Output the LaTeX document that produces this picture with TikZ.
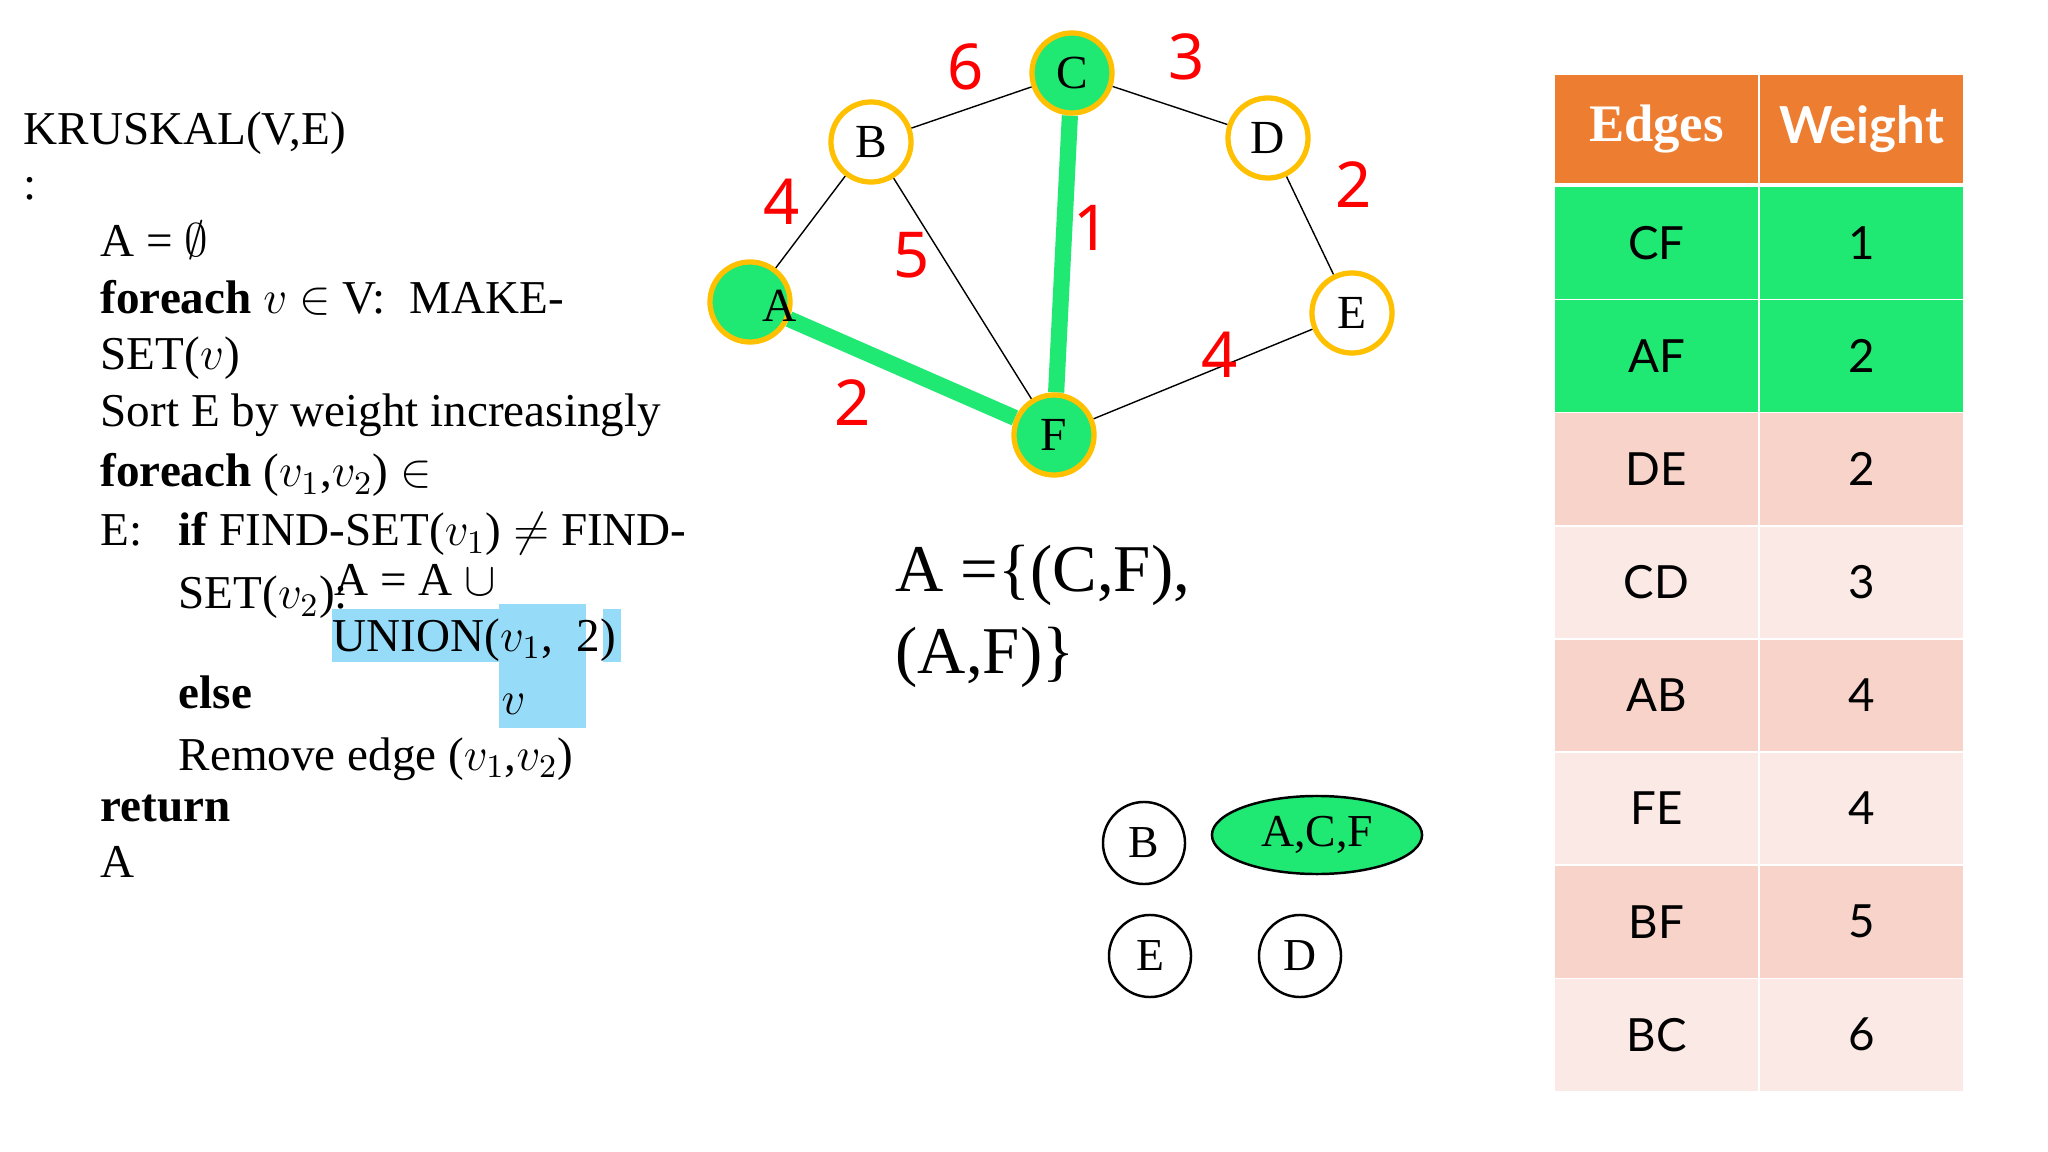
\documentclass[tikz,border=0pt]{standalone}
\usepackage{fix-cm}
\usepackage{fontspec}
\setmainfont{Liberation Serif}
\newfontfamily\latofont{Lato}
\newfontfamily\digitfont{Noto Sans}
\usetikzlibrary{shapes.geometric,backgrounds}
\definecolor{mstgreen}{HTML}{1FE873}
\definecolor{ring}{HTML}{FFC000}
\definecolor{headorange}{HTML}{ED7D31}
\definecolor{rowdark}{HTML}{F7D3CA}
\definecolor{rowlight}{HTML}{FAE9E5}
\definecolor{selblue}{HTML}{96DCF8}

\begin{document}
\begin{tikzpicture}[x=.01cm,y=-.01cm,
    code/.style={anchor=base west,inner sep=0pt,font=\fontsize{13.4}{16}\selectfont},
    vtx/.style={circle,draw=ring,line width=1.5pt,fill=white,minimum size=.8cm,inner sep=0pt,font=\fontsize{13.5}{16}\selectfont},
    wt/.style={red,inner sep=0pt,font=\digitfont\fontsize{18}{20}\selectfont},
    setnode/.style={circle,draw,line width=.7pt,minimum size=.82cm,inner sep=0pt,font=\fontsize{13}{16}\selectfont},
    cell/.style={draw=white,line width=.4pt,minimum width=2.05cm,minimum height=1.13cm,inner sep=0pt,font=\latofont\fontsize{13}{15}\selectfont},
    head/.style={cell,fill=headorange,text=white,minimum height=1.1cm}]
  \begin{scope}[on background layer]
    \fill[white] (0,0) rectangle (2048,1152);
  \end{scope}
  \useasboundingbox (0,0) rectangle (2048,1152);

  % pseudocode
  \fill[selblue] (332,609) rectangle (499,662);
  \fill[selblue] (499,604) rectangle (586,728);
  \fill[selblue] (603,609) rectangle (621,662);
  \node[code] (l1) at (23,145) {KRUSKAL(V,E)};
  \node[code] (l2) at (23,200) {:};
  \node[code] (l3) at (100,257) {A = $\emptyset$};
  \node[code] (l4) at (100,314) {\textbf{foreach} $v$ $\in$ V:\ \ MAKE-};
  \node[code] (l5) at (100,370) {SET($v$)};
  \node[code] (l6) at (100,427) {Sort E by weight increasingly};
  \node[code] (l7) at (100,487) {\textbf{foreach} ($v_1$,$v_2$) $\in$};
  \node[code] (l8) at (100,546) {E:};
  \node[code] (l9) at (178,546) {\textbf{if} FIND-SET($v_1$) $\neq$ FIND-};
  \node[code] (l10) at (178,609) {SET($v_2$):};
  \node[code] (l11) at (334,595) {A = A $\cup$};
  \node[code] (l12) at (332,651) {UNION($v_1$,~ 2)};
  \node[code] (l13) at (178,708) {\textbf{else}};
  \node[code] (l14) at (501,715) {$v$};
  \node[code] (l15) at (178,770) {Remove edge ($v_1$,$v_2$)};
  \node[code] (l16) at (100,821) {\textbf{return}};
  \node[code] (l17) at (100,877) {A};

  % graph
  \node[vtx] (B) at (871,142) {B};
  \node[vtx,fill=mstgreen] (C) at (1072,73) {C};
  \node[vtx] (D) at (1268,138) {D};
  \node[vtx,fill=mstgreen,label={[font=\fontsize{13.5}{16}\selectfont,xshift=.3cm,yshift=-.04cm]center:A}] (A) at (750,302) {};
  \node[vtx] (E) at (1352,313) {E};
  \node[vtx,fill=mstgreen] (F) at (1054,435) {F};
  \begin{scope}[on background layer]
    \draw[mstgreen,line width=4.6pt] (C) -- (F) (A) -- (F);
    \draw[line width=.4pt] (A) -- (B) -- (C) -- (D) -- (E) -- (F) -- (B);
  \end{scope}
  \foreach \n/\x/\y/\t in {lBC/966/67/6,lCD/1187/57/3,lAB/782/202/4,lBF/912/255/5,
      lCF/1092/228/1,lDE/1354/185/2,lEF/1220/355/4,lAF/853/403/2}
    \node[wt] (\n) at (\x,\y) {\t};

  \node[anchor=base west,inner sep=0pt,font=\fontsize{19}{22}\selectfont] (ans1) at (895,592) {A =\{(C,F),};
  \node[anchor=base west,inner sep=0pt,font=\fontsize{19}{22}\selectfont] (ans2) at (895,673) {(A,F)\}};

  % disjoint sets
  \node[setnode] (sB) at (1144,843) {B};
  \node[setnode,ellipse,fill=mstgreen,minimum width=2.1cm,minimum height=.78cm] (sACF) at (1317,835) {A,C,F};
  \node[setnode] (sE) at (1150,956) {E};
  \node[setnode] (sD) at (1300,956) {D};

  % table
  \node[head,font=\bfseries\fontsize{15}{16}\selectfont] (hE) at (1656.5,129) {Edges};
  \node[head,font=\latofont\bfseries\fontsize{14.5}{16}\selectfont] (hW) at (1861.5,129) {Weight};
  \foreach \e/\w/\c [count=\i] in {CF/1/mstgreen,AF/2/mstgreen,DE/2/rowdark,CD/3/rowlight,
      AB/4/rowdark,FE/4/rowlight,BF/5/rowdark,BC/6/rowlight}{
    \node[cell,fill=\c] (e\i) at (1656.5,{130+113.1*\i}) {\e};
    \node[cell,fill=\c] (w\i) at (1861.5,{130+113.1*\i}) {\w};
  }
\end{tikzpicture}
\end{document}
